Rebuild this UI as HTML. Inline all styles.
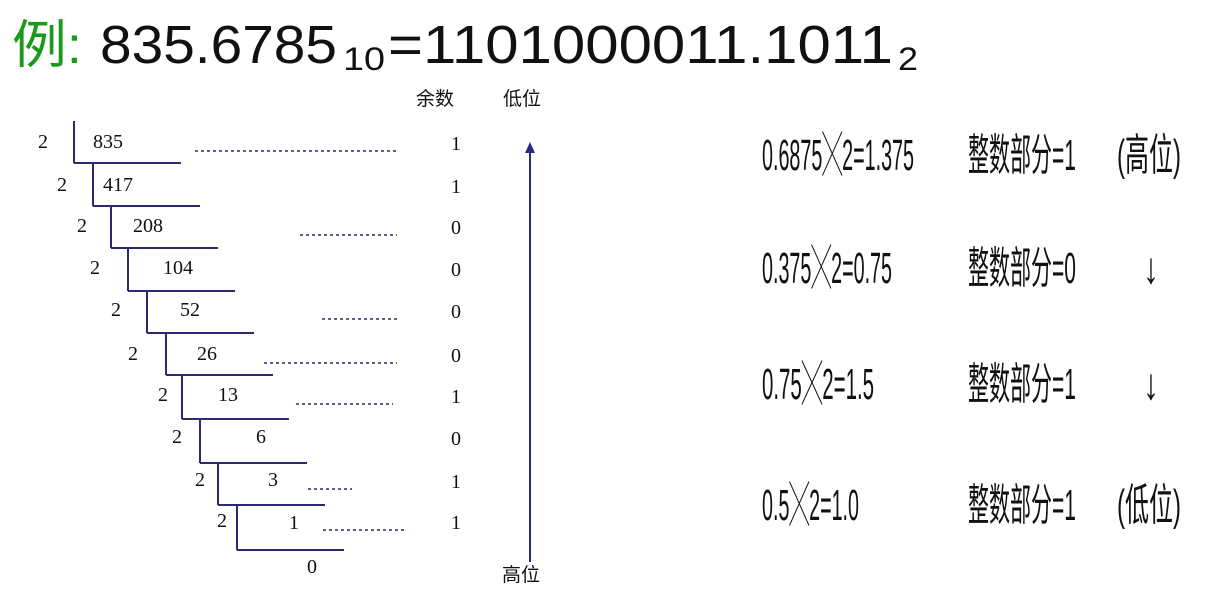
<!DOCTYPE html>
<html><head><meta charset="utf-8">
<style>
html,body{margin:0;padding:0;background:#fff;width:1212px;height:607px;overflow:hidden}
svg{display:block}
text{font-family:"Liberation Serif","Noto Serif CJK SC",serif;fill:#111}
.cj{font-family:"Liberation Sans","Noto Sans CJK SC",sans-serif}
</style></head>
<body>
<svg id="svg" width="1212" height="607" viewBox="0 0 1212 607">
  <g class="cj">
    <text class="cj" x="12" y="63" font-size="52" style="fill:#1a9a1a" textLength="70" lengthAdjust="spacingAndGlyphs">例:</text>
    <text class="cj" x="100" y="63" font-size="54" textLength="237" lengthAdjust="spacingAndGlyphs">835.6785</text>
    <text class="cj" x="343" y="70" font-size="32" textLength="42" lengthAdjust="spacingAndGlyphs">10</text>
    <text class="cj" x="388" y="63" font-size="54" textLength="505" lengthAdjust="spacingAndGlyphs">=1101000011.1011</text>
    <text class="cj" x="898" y="70" font-size="32" textLength="20" lengthAdjust="spacingAndGlyphs">2</text>
  </g>
  <g id="left"></g>
  <g>
    <text class="cj" x="416" y="105" font-size="19">余数</text>
    <text class="cj" x="503" y="105" font-size="19">低位</text>
    <text class="cj" x="502" y="581" font-size="19">高位</text>
    <line x1="530" y1="152" x2="530" y2="562" stroke="#2a2a80" stroke-width="2"/>
    <polygon points="530,142 525,153 535,153" fill="#2a2a80"/>
  </g>
  <g id="right"></g>
</svg>
<script>
const quotients = ["835","417","208","104","52","26","13","6","3","1"];
const remainders = ["1","1","0","0","0","0","1","0","1","1"];
const stepX = [74,93,111,128,147,166,182,200,218,237];
const stepBottom = [163,206,248,291,333,375,419,463,505,550];
const divisorX = [38,57,77,90,111,128,158,172,195,217];
const quotX = [93,103,133,163,180,197,218,256,268,289];
const dotFrom = [195,null,300,null,322,264,296,null,308,323];
const dotTo = [397,null,397,null,397,397,393,null,352,405];
const remY = [150,193,234,276,318,362,403,445,488,529];
const NS="http://www.w3.org/2000/svg";
const left=document.getElementById('left');
function mk(tag,attrs,parent){const e=document.createElementNS(NS,tag);for(const k in attrs)e.setAttribute(k,attrs[k]);parent.appendChild(e);return e;}
for(let i=0;i<quotients.length;i++){
  const top=i===0?121:stepBottom[i-1];
  const v=mk('line',{x1:stepX[i],y1:top,x2:stepX[i],y2:stepBottom[i],stroke:'#2a2a70','stroke-width':2},left);
  
  
  const h=mk('line',{x1:stepX[i],y1:stepBottom[i],x2:stepX[i]+107,y2:stepBottom[i],stroke:'#2a2a70','stroke-width':2},left);
  
  
  const d=mk('text',{x:divisorX[i],y:remY[i]-2,'font-size':20},left);d.textContent='2';
  
  
  const q=mk('text',{x:quotX[i],y:i===9?529:remY[i]-2,'font-size':20},left);q.textContent=quotients[i];
  
  
  const r=mk('text',{x:451,y:remY[i],'font-size':20},left);r.textContent=remainders[i];
  
  
  if(dotFrom[i]!==null){
    const dl=mk('line',{x1:dotFrom[i],y1:remY[i]+1,x2:dotTo[i],y2:remY[i]+1,stroke:'#2a2a70','stroke-width':1.5,'stroke-dasharray':'3,3'},left);
    
    
  }
}
const z=mk('text',{x:307,y:573,'font-size':20},left);z.textContent='0';



const eqs=["0.6875╳2=1.375","0.375╳2=0.75","0.75╳2=1.5","0.5╳2=1.0"];
const eqW=[152,130,112,97];
const ints=["整数部分=1","整数部分=0","整数部分=1","整数部分=1"];
const marks=["(高位)","↓","↓","(低位)"];
const rowY=[170,283,399,520];
const right=document.getElementById('right');
for(let i=0;i<4;i++){
  const a=mk('text',{class:'cj',x:762,y:rowY[i],'font-size':44,textLength:eqW[i],lengthAdjust:'spacingAndGlyphs'},right);a.textContent=eqs[i];
  
  
  const b=mk('text',{class:'cj',x:968,y:rowY[i],'font-size':44,textLength:108,lengthAdjust:'spacingAndGlyphs'},right);b.textContent=ints[i];
  
  
  const m=marks[i];
  const c=mk('text',{class:'cj',x:m.length>1?1117:1143,y:rowY[i],'font-size':44,textLength:m.length>1?64:16,lengthAdjust:'spacingAndGlyphs'},right);c.textContent=m;
  
  
}
</script>
</body></html>
